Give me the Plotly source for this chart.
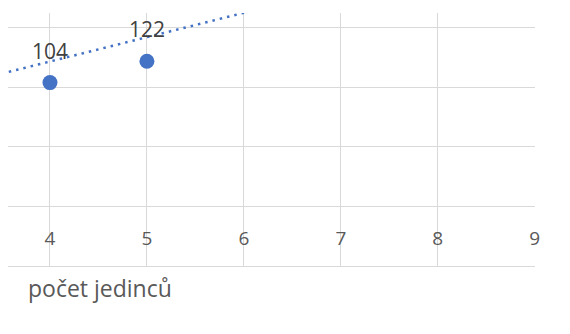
import plotly.graph_objects as go

# data
x_vals = [4, 5]
y_vals = [104, 122]
labels = ["104", "122"]
trend_x = [3.5, 6.5]
trend_y = [111.5, 173.0]
x_ticks = [4, 5, 6, 7, 8, 9]
y_ticks = [-50, 0, 50, 100, 150]
axis_title = "počet jedinců"

BLUE = "#4472C4"
GRID = "#d9d9d9"
FONT = "Open Sans"

fig = go.Figure()
fig.add_trace(go.Scatter(x=trend_x, y=trend_y, mode="lines",
                         line=dict(color=BLUE, width=2.5, dash="2.5px,5px"),
                         hoverinfo="skip", showlegend=False))
fig.add_trace(go.Scatter(x=x_vals, y=y_vals, mode="markers",
                         marker=dict(color=BLUE, size=15), showlegend=False,
                         cliponaxis=False))

for xv, yv, t in zip(x_vals, y_vals, labels):
    fig.add_annotation(x=xv, y=yv, text=t, showarrow=False, yshift=32,
                       font=dict(family=FONT, size=21, color="#404040"))

fig.add_annotation(xref="paper", yref="paper", x=(26 - 8) / 527, y=0,
                   xanchor="left", yanchor="middle", yshift=-22,
                   text=axis_title, showarrow=False,
                   font=dict(family=FONT, size=23, color="#595959"))

fig.update_xaxes(range=[3.567, 9.003], tickvals=x_ticks, ticktext=[str(v) for v in x_ticks],
                 showgrid=True, gridcolor=GRID, gridwidth=1.2, zeroline=False,
                 showline=True, linecolor=GRID, linewidth=1.2,
                 ticks="", ticklabelposition="inside",
                 ticklabelstandoff=18, ticklabeloverflow="allow",
                 tickfont=dict(family=FONT, size=19, color="#595959"))
fig.update_yaxes(range=[-50.4, 162.6], tickvals=y_ticks, showticklabels=False,
                 showgrid=True, gridcolor=GRID, gridwidth=1.2, zeroline=False,
                 showline=False, ticks="")

fig.update_layout(width=562, height=326, margin=dict(l=0, r=35, t=5, b=68),
                  paper_bgcolor="white", plot_bgcolor="white",
                  font=dict(family=FONT))

fig.write_html("out.html")
